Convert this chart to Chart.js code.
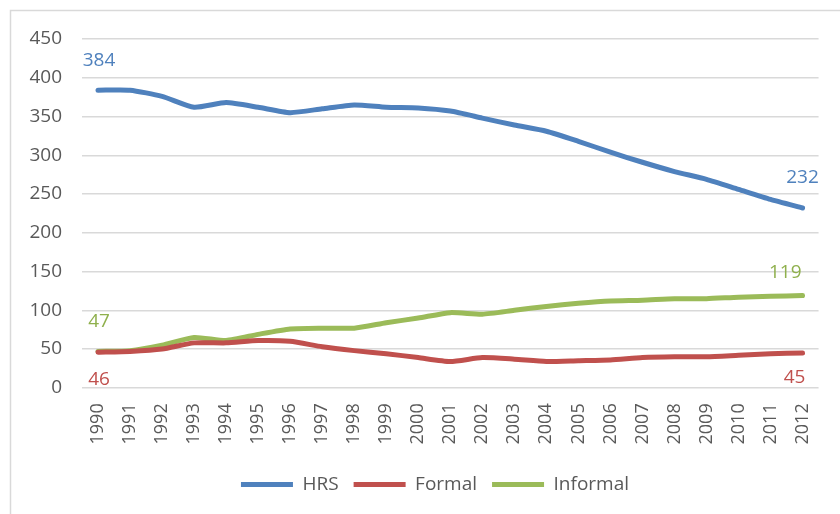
<!DOCTYPE html>
<html>
<head>
<meta charset="utf-8">
<script src="https://cdn.jsdelivr.net/npm/chart.js@4/dist/chart.umd.min.js"></script>
<style>
  html, body { margin: 0; padding: 0; background: #fff; }
  #wrap { width: 840px; height: 514px; position: relative; }
</style>
</head>
<body>
<div id="wrap"><canvas id="line-chart"></canvas></div>
<script>
const years = ["1990","1991","1992","1993","1994","1995","1996","1997","1998","1999","2000",
  "2001","2002","2003","2004","2005","2006","2007","2008","2009","2010","2011","2012"];
const hrs = [384, 384, 376, 362, 368, 362, 355, 360, 365, 362, 361,
  357, 348, 339, 331, 318, 304, 291, 279, 269, 256, 243, 232];
const formal = [46, 47, 50, 58, 58, 61, 60, 53, 48, 44, 39,
  34, 39, 37, 34, 35, 36, 39, 40, 40, 42, 44, 45];
const informal = [47, 48, 55, 65, 61, 69, 76, 77, 77, 84, 90,
  97, 95, 100, 105, 109, 112, 113, 115, 115, 117, 118, 119];
const yTicks = [0, 50, 100, 150, 200, 250, 300, 350, 400, 450];

const FONT = "'Open Sans', sans-serif";

// grey frame round the whole chart
const frame = {
  id: 'frame',
  beforeDraw(chart) {
    const ctx = chart.ctx;
    ctx.save();
    ctx.strokeStyle = '#d9d9d9';
    ctx.lineWidth = 1.5;
    ctx.strokeRect(10.5, 10.5, 840, 520);
    ctx.restore();
  }
};

// legend sits a bit right of the canvas centre
const legendShift = {
  id: 'legendShift',
  afterLayout(chart) {
    chart.legend.left += 18;
    chart.legend.right += 18;
  }
};

// first / last value labels
const endLabels = {
  id: 'endLabels',
  afterDatasetsDraw(chart) {
    const ctx = chart.ctx;
    ctx.save();
    ctx.font = '19px ' + FONT;
    ctx.textBaseline = 'middle';
    const opts = [
      { ds: 0, first: -30, last: -30, color: '#4f81bd' },
      { ds: 1, first: 27, last: 25, color: '#c0504d' },
      { ds: 2, first: -30, last: -23, color: '#8fb04d' }
    ];
    opts.forEach(o => {
      const meta = chart.getDatasetMeta(o.ds);
      const data = chart.data.datasets[o.ds].data;
      const p0 = meta.data[0];
      const pn = meta.data[data.length - 1];
      ctx.fillStyle = o.color;
      ctx.textAlign = 'center';
      ctx.fillText(String(data[0]), p0.x + 1, p0.y + o.first);
      if (o.ds === 2) {
        ctx.textAlign = 'right';
        ctx.fillText(String(data[data.length - 1]), pn.x - 1, pn.y + o.last);
      } else if (o.ds === 1) {
        ctx.fillText(String(data[data.length - 1]), pn.x - 8, pn.y + o.last);
      } else {
        ctx.fillText(String(data[data.length - 1]), pn.x, pn.y + o.last);
      }
    });
    ctx.restore();
  }
};

new Chart(document.getElementById("line-chart"), {
  type: 'line',
  data: {
    labels: years,
    datasets: [
      { label: "HRS", data: hrs, borderColor: "#4f81bd", backgroundColor: "#4f81bd" },
      { label: "Formal", data: formal, borderColor: "#c0504d", backgroundColor: "#c0504d" },
      { label: "Informal", data: informal, borderColor: "#9bbb59", backgroundColor: "#9bbb59" }
    ]
  },
  options: {
    responsive: true,
    maintainAspectRatio: false,
    animation: false,
    elements: {
      line: { borderWidth: 5, tension: 0.2, borderCapStyle: 'round', borderJoinStyle: 'round' },
      point: { radius: 0 }
    },
    layout: { padding: { left: 10, right: 16, top: 39, bottom: 10 } },
    scales: {
      x: {
        offset: true,
        grid: { display: false, drawTicks: false },
        border: { display: false },
        ticks: {
          color: '#595959',
          font: { family: FONT, size: 18 },
          minRotation: 90,
          maxRotation: 90,
          padding: 15.5,
          autoSkip: false
        }
      },
      y: {
        min: 0,
        max: 450,
        afterBuildTicks(axis) { axis.ticks = yTicks.map(v => ({ value: v })); },
        afterFit(axis) { axis.width = 72; },
        grid: { color: '#d9d9d9', lineWidth: 1.5, drawTicks: false },
        border: { display: false },
        ticks: {
          color: '#595959',
          font: { family: FONT, size: 19 },
          padding: 20
        }
      }
    },
    plugins: {
      legend: {
        position: 'bottom',
        labels: {
          color: '#595959',
          font: { family: FONT, size: 19 },
          boxWidth: 52,
          boxHeight: 0,
          padding: 15,
          generateLabels(chart) {
            return chart.data.datasets.map((d, i) => ({
              text: d.label,
              strokeStyle: d.borderColor,
              fillStyle: d.borderColor,
              lineWidth: 5,
              lineCap: 'round',
              datasetIndex: i,
              fontColor: '#595959'
            }));
          }
        }
      },
      tooltip: { enabled: false }
    }
  },
  plugins: [frame, legendShift, endLabels]
});
</script>
</body>
</html>
